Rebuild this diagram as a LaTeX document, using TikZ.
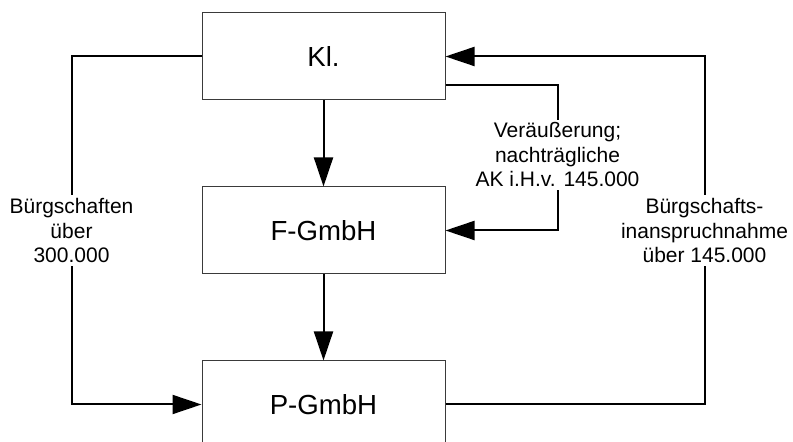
\documentclass[tikz,border=0pt]{standalone}
\usepackage{fontspec}
\setmainfont{Liberation Sans}
\usetikzlibrary{arrows.meta,calc,positioning}
\definecolor{boxline}{HTML}{3A3A3A}
\definecolor{flowink}{HTML}{000000}
\tikzset{
  partybox/.style={draw=boxline, fill=white, line width=.5pt,
    minimum width=121.5pt, minimum height=43.5pt, inner sep=0pt,
    font=\fontsize{13.8}{16}\selectfont},
  flowlabel/.style={fill=white, align=center, inner sep=1.5pt,
    font=\fontsize{10.5}{12.2}\selectfont},
  flow/.style={-{Triangle[length=14.5pt,width=9.5pt]}, draw=flowink, line width=1pt}
}
\begin{document}
\begin{tikzpicture}[x=.5pt,y=-.5pt]
  \useasboundingbox (0,0) rectangle (793,442);
  \clip (0,0) rectangle (793,442);

  \node[partybox] (kl) at (323.5,56.5) {Kl.};
  \node[partybox] (fg) at (323.5,230.5) {F-GmbH};
  \node[partybox] (pg) at (323.5,404.5) {P-GmbH};

  \draw[flow] (kl) -- (fg);
  \draw[flow] (fg) -- (pg);

  \draw[flow] (kl.west) -- ++(-130,0) |- (pg.west)
    node[flowlabel, pos=.25] {Bürgschaften\\über\\300.000};
  \draw[flow] (pg.east) -- ++(259,0) |- (kl.east)
    node[flowlabel, pos=.25] {Bürgschafts-\\inanspruchnahme\\über 145.000};
  \draw[flow] ($(kl.east)+(0,28.5)$) -- ++(112,0) |- (fg.east)
    node[flowlabel, pos=.24] {Veräußerung;\\nachträgliche\\AK i.H.v. 145.000};
\end{tikzpicture}
\end{document}
